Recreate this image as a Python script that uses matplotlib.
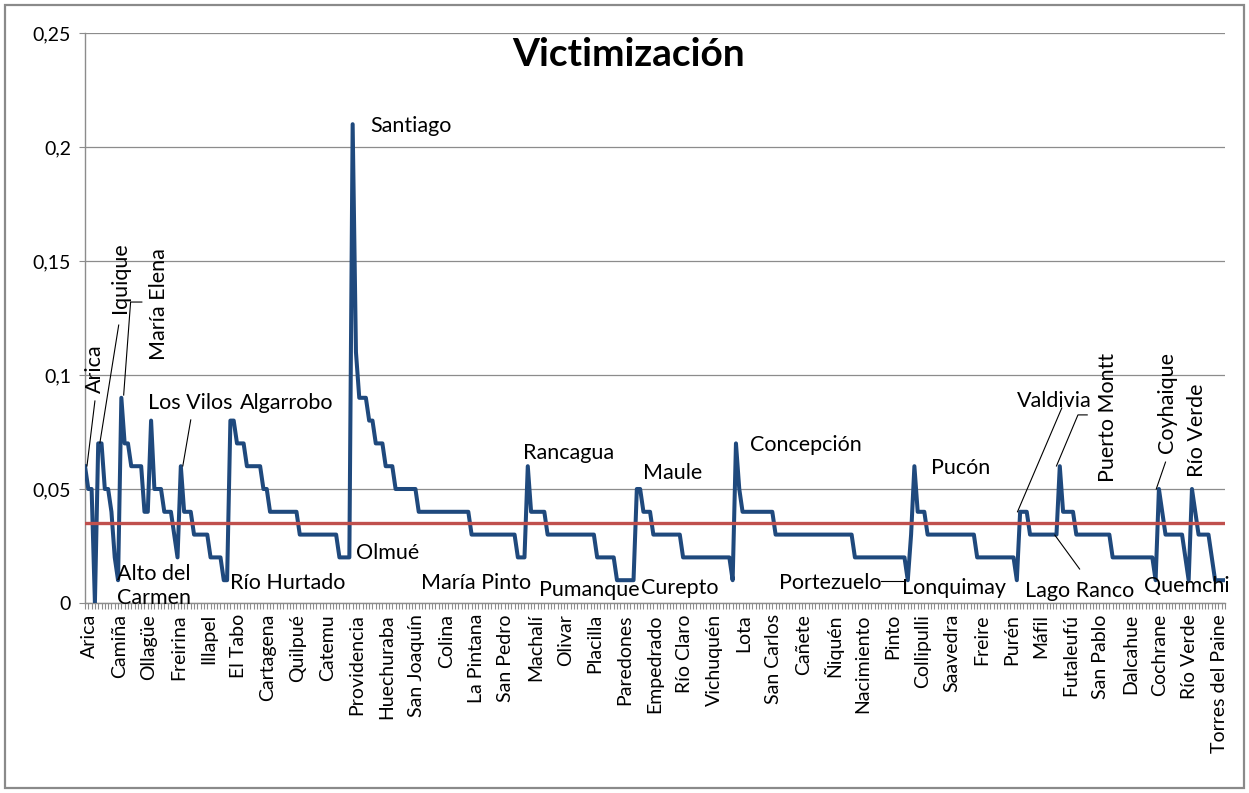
import matplotlib
matplotlib.use("Agg")
import matplotlib.pyplot as plt
from matplotlib.patches import Rectangle
from matplotlib.transforms import ScaledTranslation

plt.rcParams['font.family'] = ['Lato', 'DejaVu Sans']

# tasa de victimización por comuna (orden del gráfico original)
victimizacion = [
    0.06, 0.05, 0.05, 0.00, 0.07, 0.07, 0.05, 0.05, 0.04, 0.02,
    0.01, 0.09, 0.07, 0.07, 0.06, 0.06, 0.06, 0.06, 0.04, 0.04,
    0.08, 0.05, 0.05, 0.05, 0.04, 0.04, 0.04, 0.03, 0.02, 0.06,
    0.04, 0.04, 0.04, 0.03, 0.03, 0.03, 0.03, 0.03, 0.02, 0.02,
    0.02, 0.02, 0.01, 0.01, 0.08, 0.08, 0.07, 0.07, 0.07, 0.06,
    0.06, 0.06, 0.06, 0.06, 0.05, 0.05, 0.04, 0.04, 0.04, 0.04,
    0.04, 0.04, 0.04, 0.04, 0.04, 0.03, 0.03, 0.03, 0.03, 0.03,
    0.03, 0.03, 0.03, 0.03, 0.03, 0.03, 0.03, 0.02, 0.02, 0.02,
    0.02, 0.21, 0.11, 0.09, 0.09, 0.09, 0.08, 0.08, 0.07, 0.07,
    0.07, 0.06, 0.06, 0.06, 0.05, 0.05, 0.05, 0.05, 0.05, 0.05,
    0.05, 0.04, 0.04, 0.04, 0.04, 0.04, 0.04, 0.04, 0.04, 0.04,
    0.04, 0.04, 0.04, 0.04, 0.04, 0.04, 0.04, 0.03, 0.03, 0.03,
    0.03, 0.03, 0.03, 0.03, 0.03, 0.03, 0.03, 0.03, 0.03, 0.03,
    0.03, 0.02, 0.02, 0.02, 0.06, 0.04, 0.04, 0.04, 0.04, 0.04,
    0.03, 0.03, 0.03, 0.03, 0.03, 0.03, 0.03, 0.03, 0.03, 0.03,
    0.03, 0.03, 0.03, 0.03, 0.03, 0.02, 0.02, 0.02, 0.02, 0.02,
    0.02, 0.01, 0.01, 0.01, 0.01, 0.01, 0.01, 0.05, 0.05, 0.04,
    0.04, 0.04, 0.03, 0.03, 0.03, 0.03, 0.03, 0.03, 0.03, 0.03,
    0.03, 0.02, 0.02, 0.02, 0.02, 0.02, 0.02, 0.02, 0.02, 0.02,
    0.02, 0.02, 0.02, 0.02, 0.02, 0.02, 0.01, 0.07, 0.05, 0.04,
    0.04, 0.04, 0.04, 0.04, 0.04, 0.04, 0.04, 0.04, 0.04, 0.03,
    0.03, 0.03, 0.03, 0.03, 0.03, 0.03, 0.03, 0.03, 0.03, 0.03,
    0.03, 0.03, 0.03, 0.03, 0.03, 0.03, 0.03, 0.03, 0.03, 0.03,
    0.03, 0.03, 0.03, 0.02, 0.02, 0.02, 0.02, 0.02, 0.02, 0.02,
    0.02, 0.02, 0.02, 0.02, 0.02, 0.02, 0.02, 0.02, 0.02, 0.01,
    0.03, 0.06, 0.04, 0.04, 0.04, 0.03, 0.03, 0.03, 0.03, 0.03,
    0.03, 0.03, 0.03, 0.03, 0.03, 0.03, 0.03, 0.03, 0.03, 0.03,
    0.02, 0.02, 0.02, 0.02, 0.02, 0.02, 0.02, 0.02, 0.02, 0.02,
    0.02, 0.02, 0.01, 0.04, 0.04, 0.04, 0.03, 0.03, 0.03, 0.03,
    0.03, 0.03, 0.03, 0.03, 0.03, 0.06, 0.04, 0.04, 0.04, 0.04,
    0.03, 0.03, 0.03, 0.03, 0.03, 0.03, 0.03, 0.03, 0.03, 0.03,
    0.03, 0.02, 0.02, 0.02, 0.02, 0.02, 0.02, 0.02, 0.02, 0.02,
    0.02, 0.02, 0.02, 0.02, 0.01, 0.05, 0.04, 0.03, 0.03, 0.03,
    0.03, 0.03, 0.03, 0.02, 0.01, 0.05, 0.04, 0.03, 0.03, 0.03,
    0.03, 0.02, 0.01, 0.01, 0.01, 0.01,
]
promedio = 0.035

# etiquetas visibles del eje X (una de cada 9 comunas)
comunas_eje = [
    "Arica", "Camiña", "Ollagüe", "Freirina", "Illapel", "El Tabo",
    "Cartagena", "Quilpué", "Catemu", "Providencia", "Huechuraba",
    "San Joaquín", "Colina", "La Pintana", "San Pedro", "Machalí",
    "Olivar", "Placilla", "Paredones", "Empedrado", "Río Claro",
    "Vichuquén", "Lota", "San Carlos", "Cañete", "Ñiquén", "Nacimiento",
    "Pinto", "Collipulli", "Saavedra", "Freire", "Purén", "Máfil",
    "Futaleufú", "San Pablo", "Dalcahue", "Cochrane", "Río Verde",
    "Torres del Paine",
]
paso_etiquetas = 9

y_ticks = [0, 0.05, 0.1, 0.15, 0.2, 0.25]
y_tick_labels = ["0", "0,05", "0,1", "0,15", "0,2", "0,25"]

# rótulos horizontales: (texto, x, y)
rotulos = [
    ("Santiago", 86.3, 0.209),
    ("Los Vilos", 19.0, 0.0877),
    ("Algarrobo", 46.8, 0.0877),
    ("Alto del\nCarmen", 9.8, 0.0075),
    ("Río Hurtado", 43.8, 0.0088),
    ("Olmué", 82.0, 0.0219),
    ("María Pinto", 101.7, 0.0088),
    ("Pumanque", 137.3, 0.0057),
    ("Curepto", 168.4, 0.0066),
    ("Rancagua", 132.5, 0.0658),
    ("Maule", 169.0, 0.057),
    ("Concepción", 201.3, 0.0693),
    ("Portezuelo", 210.0, 0.0088),
    ("Lonquimay", 247.4, 0.0066),
    ("Pucón", 256.0, 0.0592),
    ("Valdivia", 282.1, 0.0886),
    ("Lago Ranco", 284.6, 0.0053),
    ("Quemchi", 320.5, 0.0075),
]
# rótulos verticales: (texto, x centro, y base)
rotulos_v = [
    ("Arica", 3.0, 0.092),
    ("Iquique", 10.6, 0.127),
    ("María Elena", 22.4, 0.1066),
    ("Puerto Montt", 309.6, 0.053),
    ("Coyhaique", 327.4, 0.0658),
    ("Río Verde", 336.5, 0.0553),
]
# líneas guía: lista de puntos (x, y)
guias = [
    [(0.6, 0.0601), (3.0, 0.0886)],
    [(4.5, 0.0702), (10.2, 0.1219)],
    [(11.7, 0.0912), (13.8, 0.1320), (17.2, 0.1320)],
    [(29.6, 0.0601), (32.0, 0.0803)],
    [(241.0, 0.0096), (248.0, 0.0096)],
    [(295.6, 0.0855), (282.2, 0.0400)],
    [(303.3, 0.0825), (300.5, 0.0825), (294.0, 0.0601)],
    [(293.5, 0.0298), (301.0, 0.0149)],
    [(327.0, 0.0618), (324.2, 0.0500)],
]

fig = plt.figure(figsize=(12.49, 7.93), dpi=100)
fig.patches.append(Rectangle((0.004, 0.006), 0.992, 0.988, transform=fig.transFigure,
                             fill=False, edgecolor='#8a8a8a', linewidth=1.6))

ax = fig.add_axes([85 / 1249, 1 - 603 / 793, 1140 / 1249, 570 / 793])

x = list(range(len(victimizacion)))
ax.plot(x, victimizacion, color='#1F497D', linewidth=2.9, solid_joinstyle='round', zorder=3)
ax.plot(x, [promedio] * len(x), color='#C0504D', linewidth=2.4, zorder=4)

ax.set_xlim(0, len(x) - 1)
ax.set_ylim(0, 0.25)

ax.set_yticks(y_ticks)
ax.set_yticklabels(y_tick_labels, fontsize=14)
ax.yaxis.grid(True, color='#8c8c8c', linewidth=0.9)
ax.set_axisbelow(True)

ax.set_xticks(range(0, len(x), paso_etiquetas))
ax.set_xticklabels(comunas_eje, rotation=90, fontsize=14)
ax.set_xticks(x, minor=True)
ax.tick_params(axis='x', which='both', length=4.5, width=0.8, color='#8c8c8c', direction='out')
ax.tick_params(axis='y', length=4, width=0.8, color='#8c8c8c', pad=6)
desplazamiento = ScaledTranslation(0.045, 0, fig.dpi_scale_trans)
for lbl in ax.get_xticklabels():
    lbl.set_transform(lbl.get_transform() + desplazamiento)

for lado in ('top', 'right'):
    ax.spines[lado].set_visible(False)
for lado in ('left', 'bottom'):
    ax.spines[lado].set_color('#8c8c8c')
    ax.spines[lado].set_linewidth(1.0)

for texto, tx, ty in rotulos:
    ax.text(tx, ty, texto, fontsize=15.5, ha='left', va='center', zorder=5,
            linespacing=1.25)
for texto, tx, ty in rotulos_v:
    ax.text(tx, ty, texto, fontsize=15.5, ha='center', va='bottom', rotation=90, zorder=5)
for g in guias:
    ax.plot([p[0] for p in g], [p[1] for p in g], color='black', linewidth=0.8,
            zorder=5, clip_on=False)

fig.text(0.503, 0.931, "Victimización", fontsize=28, fontweight='bold', ha='center', va='center')

fig.savefig("out.png", dpi=100)
